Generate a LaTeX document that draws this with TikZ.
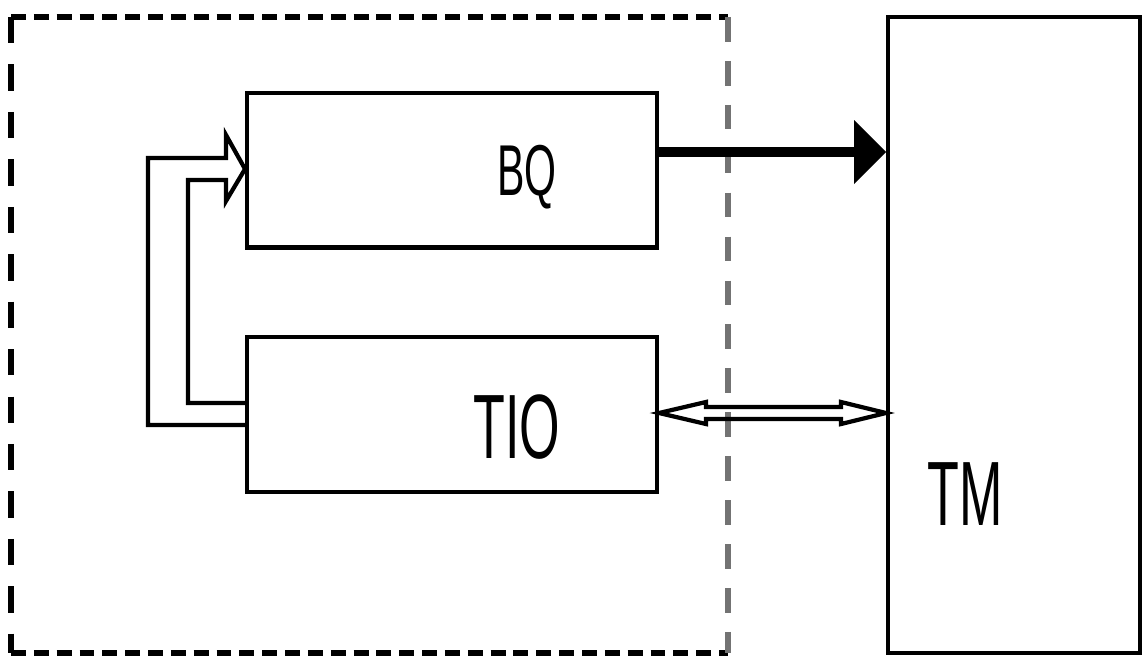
\documentclass[tikz,border=0pt]{standalone}
\usepackage{fontspec}
\setmainfont{Liberation Sans}
\usetikzlibrary{calc}
\tikzset{
  block/.style={draw, line width=2.3pt, minimum width=8.2cm, minimum height=3.1cm, inner sep=0pt},
  lbl/.style={inner sep=0pt, anchor=base},
  hollow/.style={draw, line width=2.4pt, line join=miter},
}
\newcommand{\narrow}[2]{\scalebox{0.57}[1]{\fontsize{#1}{#1}\selectfont #2}}
\begin{document}
\begin{tikzpicture}[x=0.02cm, y=-0.02cm]
  \useasboundingbox (0,0) rectangle (1143,657);
  \fill[white] (0,0) rectangle (1143,657);

  % enclosing dashed region
  \coordinate (dtl) at (11,17);
  \coordinate (dtr) at (728,17);
  \coordinate (dbl) at (11,653);
  \coordinate (dbr) at (728,653);
  \draw[line width=3pt, dash pattern=on 8.5pt off 4.5pt] (dtl) -- (dtr);
  \draw[line width=3pt, dash pattern=on 8.5pt off 4.5pt] (dbl) -- (dbr);
  \draw[line width=3pt, dash pattern=on 15pt off 12pt] (dtl) -- (dbl);
  \draw[line width=3.3pt, black!55, dash pattern=on 14pt off 11pt] (dtr) -- (dbr);

  % blocks
  \node[block] (bq)  at (452,170) {};
  \node[block] (tio) at (452,414.5) {};
  \node[draw, line width=2.3pt, minimum width=5.04cm, minimum height=12.72cm, inner sep=0pt] (tm) at (1014,335) {};

  % labels
  \node[lbl] (bqt)  at (527,195) {\narrow{41pt}{BQ}};
  \node[lbl] (tiot) at (517,458) {\narrow{52pt}{TIO}};
  \node[lbl] (tmt)  at (965,525) {\narrow{52pt}{TM}};

  % hollow feedback arrow from TIO back into BQ
  \coordinate (fb) at (bq.west |- 0,169);
  \coordinate (ft) at (tio.west |- 0,414);
  \draw[hollow]
    ($(ft)+(0,11)$) -- ($(ft)+(-97,11)$) -- ($(fb)+(-97,-11)$)
    -- ($(fb)+(-19,-11)$) -- ($(fb)+(-19,-34)$) -- (fb)
    -- ($(fb)+(-19,32)$) -- ($(fb)+(-19,11)$) -- ($(fb)+(-57,11)$)
    -- ($(ft)+(-57,-11)$) -- ($(ft)+(0,-11)$);

  % solid arrow BQ -> TM
  \coordinate (bqo) at (bq.east |- 0,152);
  \coordinate (tmi) at (tm.west |- 0,152);
  \draw[line width=5.8pt] (bqo) -- ($(tmi)+(-30,0)$);
  \fill ($(tmi)+(-32,-32)$) -- (tmi) -- ($(tmi)+(-32,32)$) -- cycle;

  % hollow two-way arrow TIO <-> TM
  \coordinate (tl) at (tio.east |- 0,413);
  \coordinate (tr) at (tm.west |- 0,413);
  \draw[hollow] (tl) -- ($(tl)+(47,-11)$) -- ($(tl)+(47,-6)$)
    -- ($(tr)+(-45,-6)$) -- ($(tr)+(-45,-11)$) -- (tr)
    -- ($(tr)+(-45,11)$) -- ($(tr)+(-45,6)$)
    -- ($(tl)+(47,6)$) -- ($(tl)+(47,11)$) -- cycle;
\end{tikzpicture}
\end{document}
